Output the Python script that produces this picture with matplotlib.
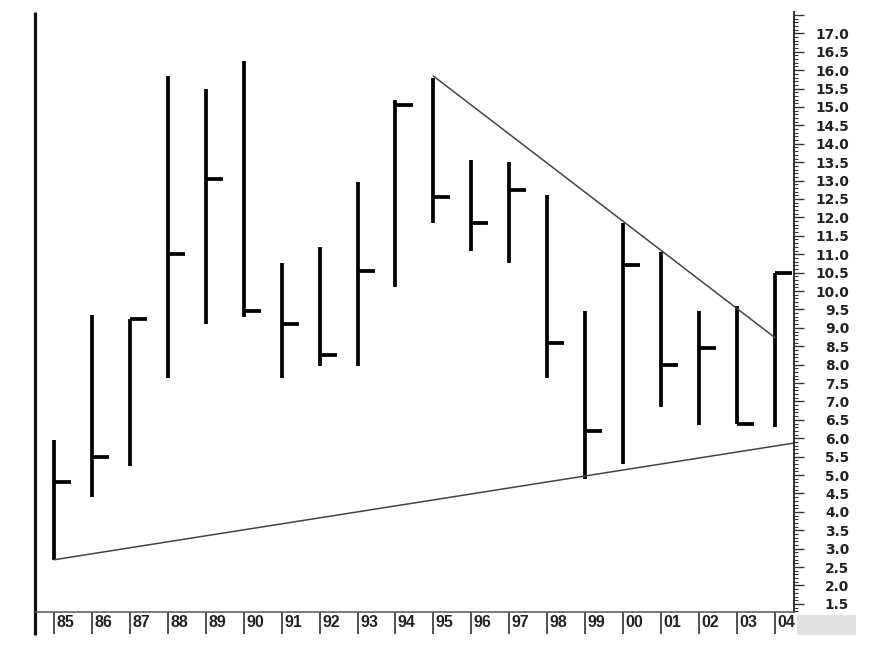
import matplotlib
matplotlib.use("Agg")
import matplotlib.pyplot as plt
import numpy as np
from matplotlib.ticker import MultipleLocator, FuncFormatter
from matplotlib.transforms import ScaledTranslation
from matplotlib.patches import Rectangle

# ---- data ----
years = ['85', '86', '87', '88', '89', '90', '91', '92', '93', '94',
         '95', '96', '97', '98', '99', '00', '01', '02', '03', '04']
highs = [5.95, 9.35, 9.25, 15.85, 15.5, 16.25, 10.75, 11.2, 12.95, 15.2,
         15.8, 13.55, 13.5, 12.6, 9.45, 11.85, 11.05, 9.45, 9.6, 10.5]
lows = [2.7, 4.4, 5.25, 7.65, 9.1, 9.3, 7.65, 7.95, 7.95, 10.1,
        11.85, 11.1, 10.75, 7.65, 4.9, 5.3, 6.85, 6.35, 6.4, 6.3]
closes = [4.8, 5.5, 9.25, 11.0, 13.05, 9.45, 9.1, 8.25, 10.55, 15.05,
          12.55, 11.85, 12.75, 8.6, 6.2, 10.7, 8.0, 8.45, 6.4, 10.5]
# trendlines (x = bar index, y = price)
upper_x = [10, 19]
upper_y = [15.84, 8.74]
lower_x = [0, 19.51]
lower_y = [2.70, 5.87]

W, H = 876, 656
fig = plt.figure(figsize=(W / 100, H / 100), dpi=100)
ax_l, ax_r, ax_t, ax_b = 34.5, 794, 12, 612
ax = fig.add_axes([ax_l / W, 1 - ax_b / H, (ax_r - ax_l) / W, (ax_b - ax_t) / H])

x = np.arange(len(years))
ax.vlines(x, lows, highs, color='black', lw=2.7, capstyle='butt')
ax.hlines(closes, x, x + 0.45, color='black', lw=2.7)

ax.plot(upper_x, upper_y, color='#444444', lw=1.1)
ax.plot(lower_x, lower_y, color='#444444', lw=1.1)

ax.set_xlim(-0.52, 19.51)
ax.set_ylim(1.28, 17.58)

# spines
ax.spines['top'].set_visible(False)
ax.spines['left'].set_visible(False)
ax.spines['bottom'].set_color('#555555')
ax.spines['bottom'].set_linewidth(1.1)
ax.spines['right'].set_color('#222222')
ax.spines['right'].set_linewidth(1.3)
ax.plot([0, 0], [-23 / 600, 1], transform=ax.transAxes, clip_on=False,
        color='#111111', lw=2.3, solid_capstyle='butt')

# y axis on right
ax.yaxis.tick_right()
ax.yaxis.set_major_locator(MultipleLocator(0.5))
ax.yaxis.set_minor_locator(MultipleLocator(0.1))
ax.yaxis.set_major_formatter(FuncFormatter(lambda v, p: '' if v > 17.25 else f'{v:.1f}'))
ax.tick_params(axis='y', which='major', direction='out', length=7.2, width=1.0,
               color='#333333', pad=32.5, labelsize=9.9, labelcolor='#222222')
ax.tick_params(axis='y', which='minor', direction='out', length=3.0, width=0.8,
               color='#333333')
for lbl in ax.get_yticklabels():
    lbl.set_horizontalalignment('right')
    lbl.set_fontfamily(['DejaVu Sans'])
    lbl.set_fontweight('bold')

# x axis: separators and labels
ax.set_xticks(x, years)
ax.tick_params(axis='x', which='major', direction='out', length=15.8, width=1.2,
               color='#333333', pad=-7.9, labelsize=11.5, labelcolor='#222222')
off = ScaledTranslation(2.5 / 100, 0, fig.dpi_scale_trans)
for tick in ax.xaxis.get_major_ticks():
    lbl = tick.label1
    lbl.set_horizontalalignment('left')
    lbl.set_verticalalignment('center')
    lbl.set_fontfamily(['Liberation Sans Narrow', 'Liberation Sans', 'DejaVu Sans'])
    lbl.set_fontweight('bold')
    lbl.set_transform(lbl.get_transform() + off)

# gray box at bottom right
fig.add_artist(Rectangle((797 / W, 1 - 635 / H), 59 / W, 20 / H,
                         transform=fig.transFigure, facecolor='#e2e2e2',
                         edgecolor='none'))

fig.savefig('out.png', dpi=100)
